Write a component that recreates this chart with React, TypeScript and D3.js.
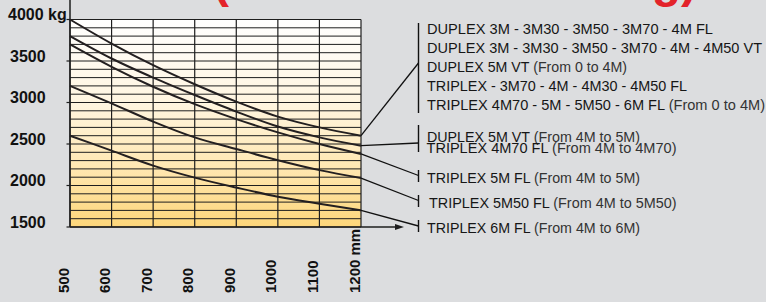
import React from "react";
import * as d3 from "d3";

// ---- data ----
const loadCentres = [500, 600, 700, 800, 900, 1000, 1100, 1200];
const capacityA = [4000, 3710, 3450, 3220, 3010, 2830, 2700, 2600];
const capacityB = [3800, 3530, 3300, 3090, 2890, 2710, 2580, 2480];
const capacityC = [3700, 3430, 3190, 2980, 2800, 2640, 2500, 2380];
const capacityD = [3200, 2990, 2770, 2580, 2440, 2305, 2185, 2090];
const capacityE = [2600, 2420, 2240, 2095, 1975, 1865, 1780, 1700];
const yTickValues = [1500, 2000, 2500, 3000, 3500, 4000];
const gridStepKg = 100;
const xUnit = "mm";
const yUnit = "kg";

const legendMain = [
  "DUPLEX 3M - 3M30 - 3M50 - 3M70 - 4M FL",
  "DUPLEX 3M - 3M30 - 3M50 - 3M70 - 4M - 4M50 VT",
  "DUPLEX 5M VT",
  "TRIPLEX - 3M70 - 4M - 4M30 - 4M50 FL",
  "TRIPLEX 4M70 - 5M - 5M50 - 6M FL",
  "DUPLEX 5M VT",
  "TRIPLEX 4M70 FL",
  "TRIPLEX 5M FL",
  "TRIPLEX 5M50 FL",
  "TRIPLEX 6M FL",
];
const legendNote = [
  "",
  "",
  "(From 0 to 4M)",
  "",
  "(From 0 to 4M)",
  "(From 4M to 5M)",
  "(From 4M to 4M70)",
  "(From 4M to 5M)",
  "(From 4M to 5M50)",
  "(From 4M to 6M)",
];

// ---- layout ----
const W = 766;
const H = 302;
const PL = 70;
const PR = 361;
const PT = 19.5;
const PB = 227;

const rowX = [427, 427, 427, 427, 427, 427, 426.5, 427, 429, 427];
const rowY = [34, 53, 72, 91, 110, 141.5, 153.3, 182.5, 208, 233];
const rowW = [286, 335, 200, 260, 338, 213, 250, 213, 247.5, 213];
const rowF = [15.5, 15.5, 15.5, 15.5, 15.5, 14, 14, 15.5, 15.5, 15.5];

const seriesList = [capacityA, capacityB, capacityC, capacityD, capacityE];
// bracket [top, bottom], pointer target y
const brackets = [
  { top: 23, bottom: 113, target: 63 },
  { top: 125, bottom: 152, target: 143 },
  { top: 170, bottom: 182, target: 175.5 },
  { top: 195, bottom: 207, target: 200.5 },
  { top: 220, bottom: 232, target: 226 },
];
const BX = 418.5;

export default function App() {
  const x = d3.scaleLinear().domain([500, 1200]).range([PL, PR]);
  const y = d3.scaleLinear().domain([1500, 4000]).range([PB, PT]);
  const line = d3
    .line<number>()
    .x((_, i) => x(loadCentres[i]))
    .y((d) => y(d))
    .curve(d3.curveMonotoneX);

  const gridKg = d3.range(1500, 4000 + 1, gridStepKg);
  const fontMain = "'Liberation Sans',Arial,Helvetica,sans-serif";
  const fontBold = "'Liberation Sans',Arial,Helvetica,sans-serif";

  return (
    <svg
      width={W}
      height={H}
      style={{ position: "absolute", left: 0, top: 0, display: "block" }}
    >
      <defs>
        <linearGradient id="fillGrad" x1="0" y1="0" x2="0" y2="1">
          <stop offset="0%" stopColor="#ffffff" />
          <stop offset="40%" stopColor="#fff5e0" />
          <stop offset="70%" stopColor="#ffe8b4" />
          <stop offset="100%" stopColor="#fdd67a" />
        </linearGradient>
      </defs>
      <rect x={0} y={0} width={W} height={H} fill="#dcdddf" />

      {/* cropped red title: only descenders visible */}
      <text
        x={213}
        y={-3}
        fontFamily={fontBold}
        fontWeight="bold"
        fontSize={48}
        fill="#e3232a"
      >
        (
      </text>
      <text
        x={697}
        y={-3}
        textAnchor="end"
        fontFamily={fontBold}
        fontWeight="bold"
        fontSize={48}
        fill="#e3232a"
      >
        {yUnit + ")"}
      </text>

      {/* plot background */}
      <rect x={PL} y={PT} width={PR - PL} height={PB - PT} fill="url(#fillGrad)" />

      {/* horizontal grid */}
      {gridKg.map((v) => (
        <line
          key={"h" + v}
          x1={PL}
          x2={PR}
          y1={y(v)}
          y2={y(v)}
          stroke="#1e1e1e"
          strokeWidth={1}
        />
      ))}
      {/* vertical grid */}
      {loadCentres.map((v) => (
        <line
          key={"v" + v}
          x1={x(v)}
          x2={x(v)}
          y1={PT}
          y2={PB}
          stroke="#1e1e1e"
          strokeWidth={1.2}
        />
      ))}

      {/* y axis line extending to top */}
      <line x1={PL} x2={PL} y1={0} y2={PB} stroke="#1e1e1e" strokeWidth={1.5} />
      {/* x axis with arrow */}
      <line x1={PL} x2={398} y1={PB} y2={PB} stroke="#1e1e1e" strokeWidth={1.3} />
      <path d={`M395,${PB - 3} L404,${PB} L395,${PB + 3} Z`} fill="#1e1e1e" />

      {/* y ticks and labels */}
      {yTickValues.map((v) => (
        <g key={"yt" + v}>
          <line x1={PL - 3.5} x2={PL} y1={y(v)} y2={y(v)} stroke="#1e1e1e" strokeWidth={1.2} />
          <text
            x={v === 4000 ? 8 : 10}
            y={y(v) + 0.5}
            fontFamily={fontBold}
            fontWeight="bold"
            fontSize={16}
            fill="#111"
          >
            {v === 4000 ? `${v} ${yUnit}` : String(v)}
          </text>
        </g>
      ))}

      {/* x labels rotated */}
      {loadCentres.map((v) => (
        <text
          key={"xt" + v}
          transform={`translate(${x(v) - 1.5},293) rotate(-90)`}
          fontFamily={fontBold}
          fontWeight="bold"
          fontSize={15}
          fill="#111"
        >
          {v === 1200 ? `${v} ${xUnit}` : String(v)}
        </text>
      ))}

      {/* curves */}
      {seriesList.map((s, i) => (
        <path
          key={"c" + i}
          d={line(s) || ""}
          fill="none"
          stroke="#231f20"
          strokeWidth={2}
        />
      ))}

      {/* pointers and brackets */}
      {seriesList.map((s, i) => {
        const b = brackets[i];
        return (
          <g key={"p" + i}>
            <line
              x1={x(1200)}
              y1={y(s[s.length - 1])}
              x2={BX}
              y2={b.target}
              stroke="#111"
              strokeWidth={1.3}
            />
            <line x1={BX} x2={BX} y1={b.top} y2={b.bottom} stroke="#111" strokeWidth={1.4} />
          </g>
        );
      })}

      {/* legend text */}
      {legendMain.map((t, i) => (
        <text
          key={"l" + i}
          x={rowX[i]}
          y={rowY[i]}
          fontFamily={fontMain}
          fontSize={rowF[i]}
          fill="#161616"
          textLength={rowW[i]}
          lengthAdjust="spacingAndGlyphs"
        >
          {t}
          {legendNote[i] ? (
            <tspan fill="#333">{" " + legendNote[i]}</tspan>
          ) : null}
        </text>
      ))}
    </svg>
  );
}
